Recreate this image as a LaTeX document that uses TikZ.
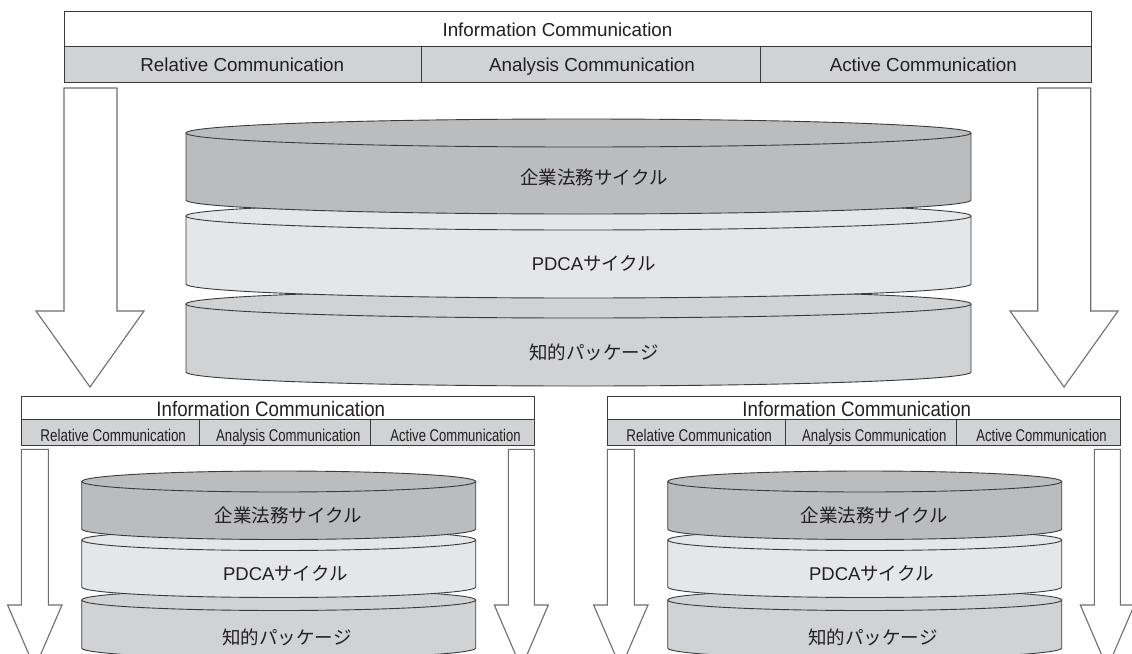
\documentclass[tikz,border=0pt]{standalone}
\usepackage{fontspec}
\usepackage{graphicx}
\setmainfont{Liberation Sans}
\newfontfamily\latinfont{Liberation Sans}
\newfontfamily\cjk{Noto Sans CJK JP}
\definecolor{hdrgray}{HTML}{D1D2D4}
\definecolor{cylA}{HTML}{BBBCBE}
\definecolor{cylB}{HTML}{E5E6E8}
\definecolor{cylC}{HTML}{D1D2D4}
\definecolor{ink}{HTML}{231F20}
\definecolor{edge}{HTML}{3A3A3A}
\definecolor{arrowedge}{HTML}{6E6E6E}
% cx, rx, ry, ytop, ybot, colour
\newcommand\cylband[6]{%
  \path[fill=#6] ({#1-#2},#4) -- ({#1-#2},#5) arc[start angle=180,end angle=0,x radius=#2,y radius=#3] -- ({#1+#2},#4) -- cycle;
  \draw[cylline] ({#1-#2},#4) -- ({#1-#2},#5) arc[start angle=180,end angle=0,x radius=#2,y radius=#3] -- ({#1+#2},#4);
  \draw[cylline,fill=#6] (#1,#4) ellipse[x radius=#2,y radius=#3];
}
\begin{document}
\begin{tikzpicture}[x=1pt,y=-1pt,
  box/.style={draw=edge,line width=0.9pt,inner sep=0pt,anchor=north west,fill=white},
  rowcell/.style={box,fill=hdrgray},
  arrowshape/.style={draw=arrowedge,line width=1.1pt,fill=white,line join=miter},
  cylline/.style={draw=edge,line width=0.9pt},
  bigtxt/.style={font=\fontsize{18.8}{20}\selectfont,text=ink,inner sep=0pt,anchor=base},
  smallhdr/.style={font=\fontsize{18.7}{20}\selectfont,text=ink,inner sep=0pt,anchor=base},
  smallrow/.style={font=\fontsize{17}{19}\selectfont,text=ink,inner sep=0pt,anchor=base},
  jptxt/.style={font=\cjk\fontsize{18.5}{20}\selectfont,text=ink,inner sep=0pt}]
\useasboundingbox (0,0) rectangle (1132,653);
\clip (0,0) rectangle (1132,653);

% ---------- large diagram ----------
\node[box,minimum width=1027.2pt,minimum height=35pt] (Thdr) at (63.5,11) {};
\node[rowcell,minimum width=357.2pt,minimum height=36pt] (Tc1) at (63.5,46) {};
\node[rowcell,minimum width=339.3pt,minimum height=36pt] (Tc2) at (420.7,46) {};
\node[rowcell,minimum width=330.7pt,minimum height=36pt] (Tc3) at (760,46) {};
\node[bigtxt] (Thdrt) at (557.5,36) {Information Communication};
\node[bigtxt] (Tc1t) at (242.3,71) {Relative Communication};
\node[bigtxt] (Tc2t) at (592,71) {Analysis Communication};
\node[bigtxt] (Tc3t) at (923.3,71) {Active Communication};

\draw[arrowshape] (64,88) -- (117,88) -- (117,311) -- (144,311) -- (90,387) -- (36,311) -- (64,311) -- cycle;
\draw[arrowshape] (1037.7,88) -- (1090.7,88) -- (1090.7,311) -- (1118,311) -- (1064,387) -- (1010,311) -- (1037.7,311) -- cycle;

\cylband{578.5}{392.5}{14}{304}{372}{cylC}
\cylband{578.5}{392.5}{14}{216}{284}{cylB}
\cylband{578.5}{392.5}{14}{133}{200}{cylA}
\node[jptxt] (Tk1) at (594,177.5) {企業法務サイクル};
\node[jptxt] (Tk2) at (594,263.5) {{\latinfont PDCA}サイクル};
\node[jptxt] (Tk3) at (594,352) {知的パッケージ};

% ---------- small diagrams ----------
\foreach \p/\d in {L/0,R/586}{
\begin{scope}[xshift=\d pt]
\node[box,minimum width=513.6pt,minimum height=23.6pt] (hdr\p) at (20.7,395.7) {};
\node[rowcell,minimum width=178.6pt,minimum height=25.7pt] (c1\p) at (20.7,419.3) {};
\node[rowcell,minimum width=170.7pt,minimum height=25.7pt] (c2\p) at (199.3,419.3) {};
\node[rowcell,minimum width=164.3pt,minimum height=25.7pt] (c3\p) at (370,419.3) {};
\node[smallhdr] (hdrt\p) at (270.8,416.7) {\scalebox{1}[1.12]{Information Communication}};
\node[smallrow] (c1t\p) at (113.2,441.7) {\scalebox{0.79}[1]{Relative Communication}};
\node[smallrow] (c2t\p) at (288.3,441.7) {\scalebox{0.775}[1]{Analysis Communication}};
\node[smallrow] (c3t\p) at (455.5,441.7) {\scalebox{0.77}[1]{Active Communication}};

\draw[arrowshape] (21.3,449.3) -- (48.3,449.3) -- (48.3,605) -- (62,605) -- (34.8,668) -- (7.6,605) -- (21.3,605) -- cycle;
\draw[arrowshape] (508.3,449.3) -- (534.3,449.3) -- (534.3,605) -- (548.3,605) -- (521.3,668) -- (494.3,605) -- (508.3,605) -- cycle;

\cylband{278.7}{197}{10.5}{600}{648}{cylC}
\cylband{278.7}{197}{10.5}{540}{587}{cylB}
\cylband{278.7}{197}{10.5}{481.5}{529}{cylA}
\node[jptxt] (k1\p) at (288.3,515.8) {企業法務サイクル};
\node[jptxt] (k2\p) at (285.3,573.3) {{\latinfont PDCA}サイクル};
\node[jptxt] (k3\p) at (287,637.5) {知的パッケージ};
\end{scope}
}
\end{tikzpicture}
\end{document}
